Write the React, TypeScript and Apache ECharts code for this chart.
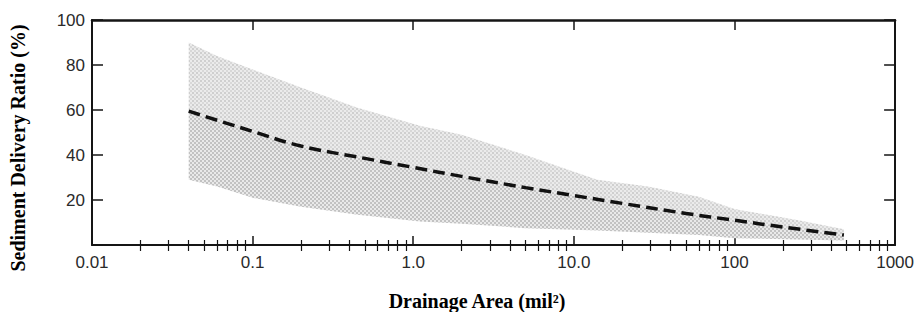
import React, { useEffect, useRef } from "react";
import * as echarts from "echarts";

// ---- data ----
const xTickLabels = ["0.01", "0.1", "1.0", "10.0", "100", "1000"];
const yTickValues = [20, 40, 60, 80, 100];

// envelope of observed ratios (shaded band)
const bandX = [0.04, 0.06, 0.1, 0.2, 0.45, 1.1, 2, 5, 14, 29, 60, 100, 250, 480];
const bandUpper = [90, 84, 78, 70, 61, 53, 49, 40, 29, 26, 21.5, 16, 11, 7];
const bandLower = [29, 26, 21, 17, 13.5, 10.5, 9.5, 7.5, 6.5, 5.5, 4.5, 3, 2.5, 2];

// dashed mean curve
const curveX = [0.04, 0.1, 0.2, 0.5, 1, 2, 5, 10, 20, 50, 100, 200, 480];
const curveY = [59.5, 50.5, 44, 38.5, 34.5, 30.5, 25.5, 22, 18.5, 14, 11, 8, 4.4];

// minor tick positions (2..9 in each decade)
const minorTicks: number[] = [];
for (let d = -2; d <= 2; d++) {
  for (let m = 2; m <= 9; m++) minorTicks.push(m * Math.pow(10, d));
}

const svgTile = (body: string) =>
  "data:image/svg+xml;charset=utf-8," +
  encodeURIComponent(
    `<svg xmlns='http://www.w3.org/2000/svg' width='4' height='4'>${body}</svg>`
  );

const upperPattern = {
  image: svgTile(
    "<rect width='4' height='4' fill='#ebebeb'/><rect width='2' height='2' fill='#cfcfcf'/><rect x='2' y='2' width='2' height='2' fill='#d8d8d8'/>"
  ),
  repeat: "repeat",
  imageWidth: 4,
  imageHeight: 4,
};
const lowerPattern = {
  image: svgTile(
    "<rect width='4' height='4' fill='#e9e9e9'/><rect width='2' height='2' fill='#c2c2c2'/><rect x='2' y='2' width='2' height='2' fill='#c2c2c2'/>"
  ),
  repeat: "repeat",
  imageWidth: 4,
  imageHeight: 4,
};

const AXIS_COLOR = "#151515";
const LABEL_FONT = "Liberation Sans";

function xLabel(v: number) {
  const idx = Math.round(Math.log10(v)) + 2;
  return xTickLabels[idx] ?? "";
}

export default function App() {
  const ref = useRef<HTMLDivElement>(null);

  useEffect(() => {
    document.body.style.margin = "0";
    if (!ref.current) return;
    const chart = echarts.init(ref.current, undefined, { renderer: "svg" });

    const baseX = {
      type: "log",
      logBase: 10,
      min: 0.01,
      max: 1000,
      splitLine: { show: false },
      axisLine: { show: false, lineStyle: { color: AXIS_COLOR, width: 2 } },
      axisLabel: { show: false },
      axisTick: { show: false },
    };

    chart.setOption({
      animation: false,
      backgroundColor: "#ffffff",
      grid: { left: 92, right: 18, top: 20, bottom: 67, containLabel: false },
      xAxis: [
        {
          ...baseX,
          position: "bottom",
          axisLine: { show: true, onZero: false, lineStyle: { color: AXIS_COLOR, width: 2 } },
          axisTick: { show: true, inside: true, length: 9, lineStyle: { color: AXIS_COLOR, width: 1.5 } },
          axisLabel: {
            show: true,
            margin: 9,
            formatter: (v: number) => xLabel(v),
            color: "#2a2a2a",
            fontFamily: LABEL_FONT,
            fontSize: 17,
          },
        },
        {
          ...baseX,
          position: "bottom",
          axisTick: {
            show: true,
            inside: true,
            length: 5,
            customValues: minorTicks,
            lineStyle: { color: AXIS_COLOR, width: 1.2 },
          },
        },
        {
          ...baseX,
          position: "top",
          axisLine: { show: true, onZero: false, lineStyle: { color: AXIS_COLOR, width: 2.5 } },
          axisTick: { show: true, inside: true, length: 10, lineStyle: { color: AXIS_COLOR, width: 1.5 } },
        },
        {
          ...baseX,
          position: "top",
          axisTick: {
            show: true,
            inside: true,
            length: 6,
            customValues: minorTicks,
            lineStyle: { color: AXIS_COLOR, width: 1.2 },
          },
        },
      ],
      yAxis: [
        {
          type: "value",
          position: "left",
          min: 0,
          max: 100,
          interval: 20,
          splitLine: { show: false },
          axisLine: { show: true, onZero: false, lineStyle: { color: AXIS_COLOR, width: 2 } },
          axisTick: { show: true, inside: true, length: 11, lineStyle: { color: AXIS_COLOR, width: 1.5 } },
          axisLabel: {
            margin: 7,
            formatter: (v: number) => (yTickValues.includes(v) ? String(v) : ""),
            color: "#2a2a2a",
            fontFamily: LABEL_FONT,
            fontSize: 17,
          },
        },
        {
          type: "value",
          position: "right",
          min: 0,
          max: 100,
          interval: 20,
          splitLine: { show: false },
          axisLine: { show: true, onZero: false, lineStyle: { color: AXIS_COLOR, width: 2 } },
          axisTick: { show: true, inside: true, length: 11, lineStyle: { color: AXIS_COLOR, width: 1.5 } },
          axisLabel: { show: false },
        },
      ],
      graphic: [
        {
          type: "text",
          x: 477,
          y: 301,
          style: {
            text: "Drainage Area (mil²)",
            textAlign: "center",
            textVerticalAlign: "middle",
            font: 'bold 20px "Liberation Serif"',
            fill: "#000",
          },
        },
        {
          type: "text",
          x: 18,
          y: 148,
          rotation: Math.PI / 2,
          style: {
            text: "Sediment Delivery Ratio (%)",
            textAlign: "center",
            textVerticalAlign: "middle",
            font: 'bold 20px "Liberation Serif"',
            fill: "#000",
          },
        },
      ],
      series: [
        {
          type: "custom",
          coordinateSystem: "cartesian2d",
          xAxisIndex: 0,
          yAxisIndex: 0,
          z: 1,
          silent: true,
          data: [[1, 50]],
          renderItem: (_params: any, api: any) => {
            const up = bandX.map((x, i) => api.coord([x, bandUpper[i]]));
            const mid = curveX.map((x, i) => api.coord([x, curveY[i]]));
            const lo = bandX.map((x, i) => api.coord([x, bandLower[i]]));
            return {
              type: "group",
              children: [
                {
                  type: "polygon",
                  shape: { points: up.concat(mid.slice().reverse()) },
                  style: { fill: upperPattern as any },
                },
                {
                  type: "polygon",
                  shape: { points: mid.concat(lo.slice().reverse()) },
                  style: { fill: lowerPattern as any },
                },
              ],
            };
          },
        },
        {
          type: "line",
          xAxisIndex: 0,
          yAxisIndex: 0,
          z: 5,
          showSymbol: false,
          smooth: 0.4,
          data: curveX.map((x, i) => [x, curveY[i]]),
          lineStyle: { color: "#111", width: 3.5, type: [12, 6] },
        },
      ],
    });

    return () => chart.dispose();
  }, []);

  return <div ref={ref} style={{ width: 917, height: 312 }} />;
}
